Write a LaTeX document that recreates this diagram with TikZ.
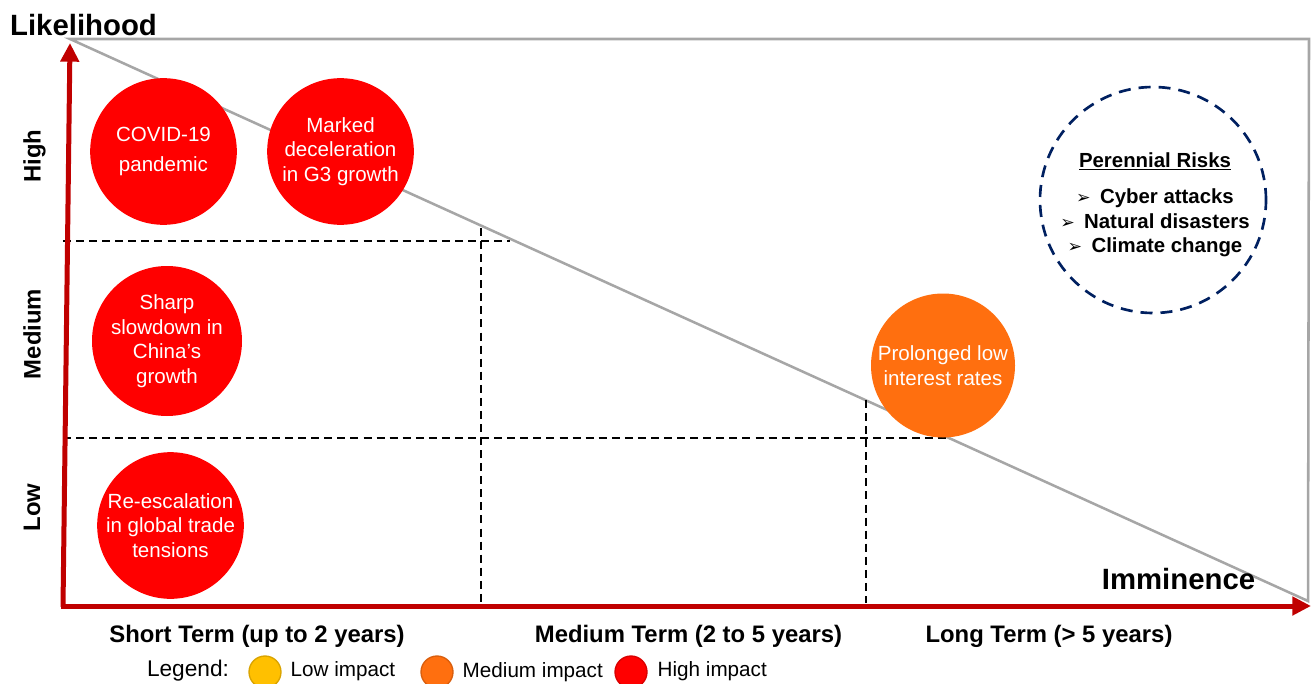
\documentclass[tikz,border=0pt]{standalone}
\usepackage{fontspec}
\setmainfont{Liberation Sans}
\newfontfamily\dejavu{DejaVu Sans}
\usepackage{tikz}
\usetikzlibrary{arrows.meta}
\definecolor{axisred}{HTML}{C00000}
\definecolor{riskred}{HTML}{FF0000}
\definecolor{riskorange}{HTML}{FF6F0F}
\definecolor{riskyellow}{HTML}{FFC000}
\definecolor{edgegray}{HTML}{A6A6A6}
\definecolor{navy}{HTML}{002060}
\tikzstyle{risk}=[circle,text=white,inner sep=0pt,align=center,font=\fontsize{15.4}{18.4}\selectfont]
\tikzstyle{axis}=[draw=axisred,line width=3.75pt,-{Triangle[width=13.5pt,length=14pt]}]
\tikzstyle{band}=[draw,black,line width=1.1pt,dash pattern=on 6pt off 3.8pt]
\tikzstyle{termlabel}=[font=\fontsize{17.9}{20}\selectfont\bfseries]
\tikzstyle{legendtext}=[font=\fontsize{15.5}{18}\selectfont]
\tikzstyle{legenddot}=[circle,minimum size=24pt,inner sep=0pt,line width=1pt]
\newcommand{\bul}{{\dejavu\fontsize{13}{13}\selectfont ➢}\hspace{7pt}}

\begin{document}
\begin{tikzpicture}[x=0.75pt,y=-0.75pt]

    \useasboundingbox (0,0) rectangle (1316,684);

    % gray triangle
    \coordinate (gl) at (70,39);
    \coordinate (gr) at (1309,39);
    \coordinate (gb) at (1308,601);
    \draw[edgegray, line width=1.9pt, line join=miter] (gl) -- (gr) -- (gb) -- cycle;

    % bands
    \draw[band] (63,241) -- (510,241);
    \draw[band] (63,438) -- (948,438);
    \draw[band] (481,228) -- (481,603);
    \draw[band] (866,400) -- (866,603);

    % axes
    \coordinate (ybase) at (63,607);
    \coordinate (ytop) at (70,43);
    \coordinate (xbase) at (61,606);
    \coordinate (xend) at (1311,606);
    \draw[axis] (ybase) -- (ytop);
    \draw[axis] (xbase) -- (xend);

    \node[font=\fontsize{22}{24}\selectfont\bfseries] (likelihood) at (83.5,25) {Likelihood};
    \node[font=\fontsize{22}{24}\selectfont\bfseries] (imminence) at (1178.5,579) {Imminence};

    \foreach \pos/\name/\txt in {{(34.5,156)/high/High}, {(32,334)/medium/Medium}, {(32,507.5)/low/Low}}
        \node[termlabel, rotate=90] (\name) at \pos {\txt};

    \node[termlabel] (shortterm) at (257,636) {Short Term (up to 2 years)};
    \node[termlabel] (midterm) at (688.5,636) {Medium Term (2 to 5 years)};
    \node[termlabel] (longterm) at (1049,636) {Long Term (> 5 years)};

    % risks
    \foreach \pos/\name/\sz/\col/\txt in {
        {(163.5,151.5)/covid/110/riskred/{COVID-19\\[4pt]pandemic}},
        {(340.5,151.5)/gthree/110/riskred/{Marked\\deceleration\\in G3 growth}},
        {(167,341)/china/112.5/riskred/{Sharp\\slowdown in\\China’s\\growth}},
        {(170.5,525.5)/trade/110/riskred/{Re-escalation\\in global trade\\tensions}},
        {(943,365.5)/rates/108/riskorange/{Prolonged low\\interest rates}}}
        \node[risk, fill=\col, minimum size=\sz pt] (\name) at \pos {\txt};

    % perennial risks
    \node[circle, draw=navy, line width=2pt, dash pattern=on 9pt off 6pt, minimum size=169.5pt,
          inner sep=0pt] (ring) at (1153,200) {};
    \node[align=center, font=\fontsize{15.3}{18.4}\selectfont\bfseries] (perennial) at (1155,205)
        {\underline{Perennial Risks}\\[8.6pt]
         \bul Cyber attacks\\
         \bul Natural disasters\\
         \bul Climate change};

    % legend
    \node[legendtext, font=\fontsize{17}{19}\selectfont] (legend) at (188,671) {Legend:};
    \node[legenddot, fill=riskyellow, draw=riskyellow!85!black] (lowdot) at (265,672) {};
    \node[legendtext, anchor=west] (lowtext) at (286,671) {Low impact};
    \node[legenddot, fill=riskorange, draw=riskorange!85!black] (meddot) at (437,672) {};
    \node[legendtext, anchor=west] (medtext) at (458,672) {Medium impact};
    \node[legenddot, fill=riskred, draw=riskred!85!black] (highdot) at (631,672) {};
    \node[legendtext, anchor=west] (hightext) at (653,671) {High impact};

\end{tikzpicture}
\end{document}
